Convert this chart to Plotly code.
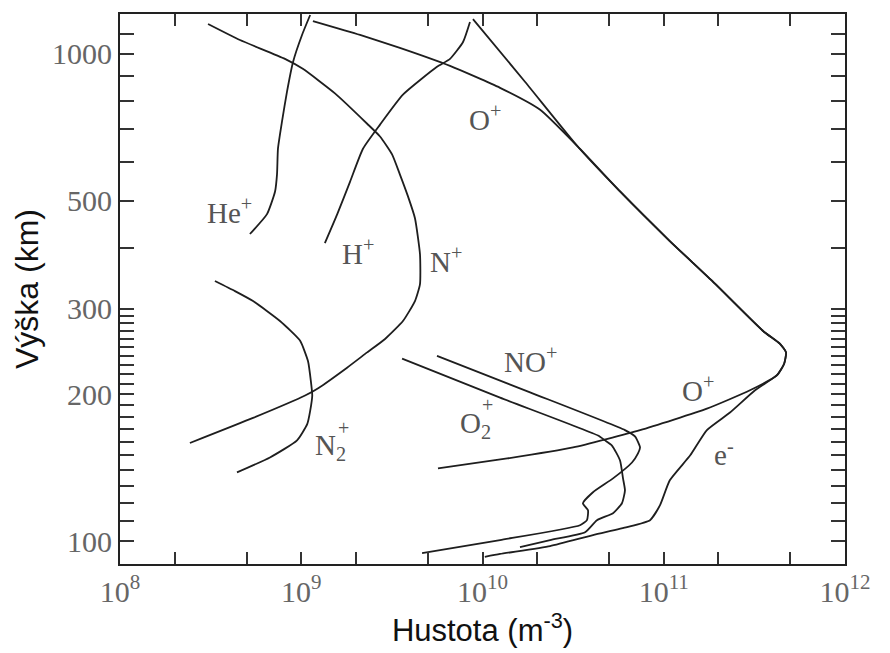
import plotly.graph_objects as go
import math

# hustota (m^-3) a vyska (km) pro jednotlive ionty
he_n = [5.21e8, 6.47e8, 7.17e8, 7.35e8, 7.44e8, 7.83e8, 8.34e8, 9.01e8, 1.01e9, 1.12e9]
he_h = [427, 469, 522, 566, 639, 726, 836, 963, 1094, 1202]

h_n = [1.35e9, 1.58e9, 1.86e9, 2.19e9, 2.72e9, 3.64e9, 5.61e9, 6.62e9, 7.81e9, 8.53e9]
h_h = [409, 469, 547, 639, 716, 825, 941, 977, 1058, 1163]

n_n = [3.06e8, 4.59e8, 8.13e8, 1.02e9, 1.54e9, 2.31e9, 2.72e9, 3.17e9, 3.50e9, 3.88e9, 4.24e9,
       4.52e9, 4.52e9, 4.24e9, 3.64e9, 2.90e9, 2.31e9, 1.79e9, 1.24e9, 1.05e9, 5.42e8, 2.43e8]
n_h = [1152, 1068, 977, 932, 829, 719, 677, 622, 566, 510, 460,
       388, 337, 311, 283, 260, 244, 227, 206, 199, 179, 159]

n2_n = [3.34e8, 4.31e8, 5.42e8, 7.63e8, 9.84e8, 1.09e9, 1.13e9, 1.15e9, 1.12e9, 1.08e9, 9.48e8, 6.72e8, 4.42e8]
n2_h = [342, 326, 311, 283, 258, 234, 213, 199, 185, 174, 161, 148.5, 138.4]

no_n = [5.61e9, 1.83e10, 6.11e10, 6.94e10, 7.40e10, 7.21e10, 6.68e10, 5.25e10, 4.07e10,
        3.58e10, 3.82e10, 3.77e10, 3.45e10, 1.25e10, 4.64e9]
no_h = [240, 202, 169, 164, 155.7, 151.4, 145, 134.5, 126, 119.6, 115.7, 110.4, 107.8, 100.5, 94.5]

o2_n = [3.60e9, 1.25e10, 4.34e10, 4.74e10, 5.18e10, 5.74e10, 5.96e10, 6.11e10, 5.88e10,
        5.25e10, 4.28e10, 3.68e10, 2.36e10, 1.61e10]
o2_h = [237, 197, 164.7, 161, 157.1, 146.4, 134.5, 127.1, 119.6, 114.1, 110.4, 104.3, 100.5, 97.2]

o_n = [1.16e9, 2.11e9, 3.50e9, 6.62e9, 1.25e10, 2.08e10, 3.36e10, 5.74e10, 1.08e11, 1.85e11,
       3.53e11, 4.38e11, 4.73e11, 4.61e11, 4.21e11, 2.99e11, 1.73e11, 7.40e10, 3.16e10, 1.37e10, 5.68e9]
o_h = [1168, 1094, 1029, 945, 852, 768, 645, 522, 413, 342,
       270, 254, 244, 231, 219, 204, 187, 169, 155.7, 147.8, 141]

e_n = [8.86e9, 1.72e10, 3.36e10, 5.74e10, 1.08e11, 1.85e11, 3.53e11, 4.38e11, 4.73e11, 4.61e11,
       4.21e11, 3.19e11, 2.32e11, 1.73e11, 1.40e11, 1.08e11, 9.54e10, 8.40e10, 6.27e10, 4.07e10,
       2.36e10, 1.25e10, 1.03e10]
e_h = [1179, 876, 645, 522, 413, 342, 270, 254, 244, 231,
       219, 204, 183.6, 169, 150, 133.3, 118.5, 110.4, 106.8, 102.9, 97.7, 94.1, 92.8]

curves = [(he_n, he_h), (h_n, h_h), (n_n, n_h), (n2_n, n2_h), (no_n, no_h),
          (o2_n, o2_h), (o_n, o_h), (e_n, e_h)]

# popisky: text, hustota, vyska
labels = [("He<sup>+</sup>", 2.94e8, 477),
          ("H<sup>+</sup>", 1.64e9, 392),
          ("N<sup>+</sup>", 5.0e9, 377),
          ("O<sup>+</sup>", 8.21e9, 740),
          ("NO<sup>+</sup>", 1.28e10, 235.6),
          ("O<sup>+</sup>", 1.23e11, 205.6),
          ("O<sub>2</sub>", 7.33e9, 173.5),
          ("N<sub>2</sub>", 1.16e9, 155.7),
          ("e<sup>-</sup>", 1.85e11, 151.4)]
plus_marks = [(1.06e10, 190), (1.70e9, 171)]

xtick_vals = [1e8, 1e9, 1e10, 1e11, 1e12]
xtick_text = ["10<sup>8</sup>", "10<sup>9</sup>", "10<sup>10</sup>", "10<sup>11</sup>", "10<sup>12</sup>"]
xminor = [2e8, 5e8, 2e9, 5e9, 2e10, 5e10, 2e11, 5e11]
ytick_vals = [100, 200, 300, 500, 1000]
yminor = [110, 120, 130, 140, 150, 160, 170, 180, 190, 210, 220, 230, 240, 250, 260, 270, 280, 290,
          400, 600, 700, 800, 900, 1100]

fig = go.Figure()
for xs, ys in curves:
    fig.add_trace(go.Scatter(x=xs, y=ys, mode="lines",
                             line=dict(color="#1e1e1e", width=1.8, shape="spline", smoothing=0.5),
                             hoverinfo="skip"))

for txt, xv, yv in labels:
    fig.add_annotation(x=math.log10(xv), y=math.log10(yv), text=txt, showarrow=False,
                       xanchor="left", yanchor="middle",
                       font=dict(family="Liberation Serif", size=29, color="#555555"))
for xv, yv in plus_marks:
    fig.add_annotation(x=math.log10(xv), y=math.log10(yv), text="+", showarrow=False,
                       font=dict(family="Liberation Serif", size=20, color="#555555"))

fig.update_xaxes(type="log", range=[8, 12], tickvals=xtick_vals, ticktext=xtick_text,
                 ticks="inside", ticklen=12, tickwidth=1.5, tickcolor="#333",
                 minor=dict(tickvals=xminor, ticks="inside", ticklen=12, tickwidth=1.5, tickcolor="#333"),
                 showline=True, linecolor="#222", linewidth=2, mirror="allticks", showgrid=False, zeroline=False,
                 tickfont=dict(family="Liberation Serif", size=30, color="#666666"),
                 title=dict(text="Hustota (m<sup>-3</sup>)", font=dict(family="Liberation Sans", size=31, color="#111"), standoff=4))
fig.update_yaxes(type="log", range=[1.953, 3.082], tickvals=ytick_vals, ticktext=[str(v) for v in ytick_vals],
                 ticks="inside", ticklen=14, tickwidth=1.5, tickcolor="#333",
                 minor=dict(tickvals=yminor, ticks="inside", ticklen=14, tickwidth=1.5, tickcolor="#333"),
                 showline=True, linecolor="#222", linewidth=2, mirror="allticks", showgrid=False, zeroline=False,
                 tickfont=dict(family="Liberation Serif", size=30, color="#666666"),
                 title=dict(text="Výška (km)", font=dict(family="Liberation Sans", size=32, color="#111"), standoff=4))

# stranka ma 8px okraj, proto je figura mensi
fig.update_layout(width=882, height=645, margin=dict(l=112, r=45, t=4, b=89),
                  plot_bgcolor="white", paper_bgcolor="white", showlegend=False)
fig.write_html("out.html")
